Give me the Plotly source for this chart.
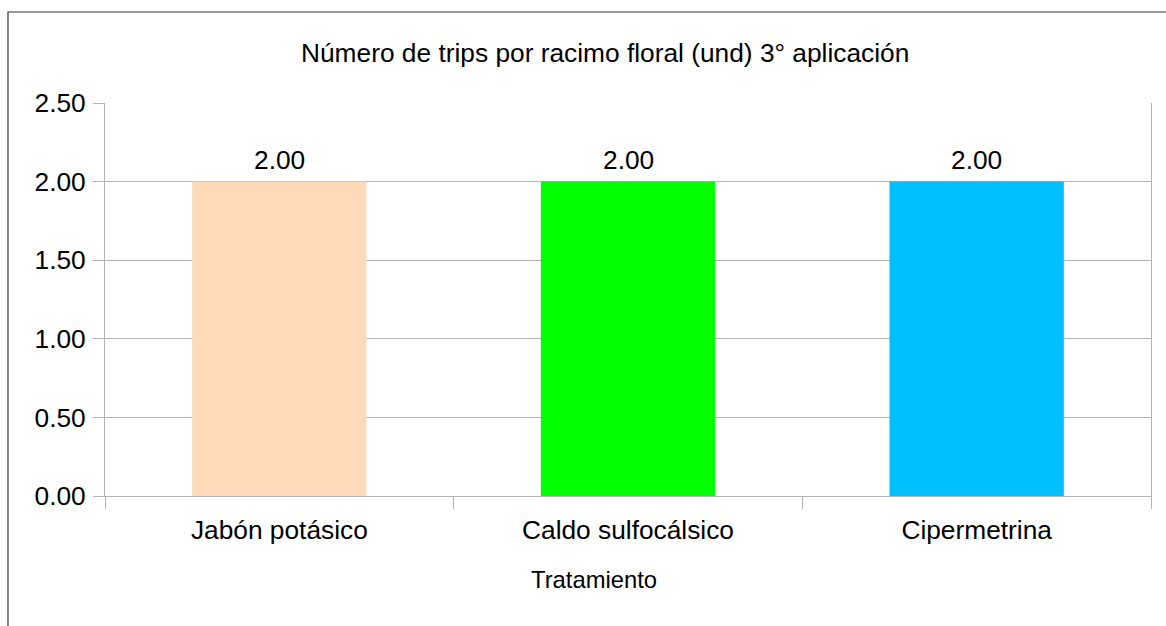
import plotly.graph_objects as go

categories = ["Jabón potásico", "Caldo sulfocálsico", "Cipermetrina"]
values = [2.00, 2.00, 2.00]
colors = ["#FFDAB9", "#00FF00", "#00BFFF"]
y_ticks = [0.0, 0.5, 1.0, 1.5, 2.0, 2.5]
y_tick_labels = ["0.00", "0.50", "1.00", "1.50", "2.00", "2.50"]
title_text = "Número de trips por racimo floral (und) 3° aplicación"
x_title = "Tratamiento"

W, H = 1166, 626
L, R, T, B = 105, 15, 103, 130
pw, ph = W - L - R, H - T - B

def px_x(x):
    return (x - L) / pw

def px_y(y):
    return (H - B - y) / ph

FONT = "Liberation Sans, Arial, sans-serif"
FS = 26.3

fig = go.Figure()
fig.add_trace(go.Bar(
    x=categories, y=values, marker=dict(color=colors, line=dict(width=0)),
    width=0.5, showlegend=False, hoverinfo="skip",
))

for c, v in zip(categories, values):
    fig.add_annotation(x=c, y=v, xref="x", yref="y", text=f"{v:.2f}",
                       showarrow=False, yanchor="bottom", yshift=5,
                       font=dict(family=FONT, size=FS, color="#000000"))

fig.add_annotation(x=px_x(605), y=px_y(52.5), xref="paper", yref="paper",
                   text=title_text, showarrow=False, xanchor="center", yanchor="middle",
                   font=dict(family=FONT, size=FS, color="#000000"))
fig.add_annotation(x=px_x(593.5), y=px_y(579), xref="paper", yref="paper",
                   text=x_title, showarrow=False, xanchor="center", yanchor="middle",
                   font=dict(family=FONT, size=23.8, color="#000000"))

# outer chart border
fig.add_shape(type="rect", xref="paper", yref="paper",
              x0=px_x(8), x1=px_x(1220), y0=px_y(680), y1=px_y(12),
              line=dict(color="#333333", width=1.2), fillcolor="rgba(0,0,0,0)", layer="above")

fig.update_layout(
    width=W, height=H, margin=dict(l=L, r=R, t=T, b=B, pad=0),
    paper_bgcolor="white", plot_bgcolor="white",
    font=dict(family=FONT, size=FS, color="#000000"),
    bargap=0.5,
)
fig.update_xaxes(
    type="category", range=[-0.5, 2.5], showline=True, linecolor="#b3b3b3", linewidth=1,
    ticks="outside", tickson="boundaries", ticklen=12, tickcolor="#b3b3b3",
    showgrid=False, tickfont=dict(family=FONT, size=FS, color="#000000"),
    ticklabelstandoff=10,
)
fig.update_yaxes(
    range=[0, 2.5], tickvals=y_ticks, ticktext=y_tick_labels,
    showline=True, linecolor="#b3b3b3", linewidth=1, mirror=True,
    ticks="outside", ticklen=11, tickcolor="#b3b3b3",
    showgrid=True, gridcolor="#b3b3b3", gridwidth=1, zeroline=False,
    tickfont=dict(family=FONT, size=FS, color="#000000"), ticklabelstandoff=2,
)

fig.write_html("out.html")
